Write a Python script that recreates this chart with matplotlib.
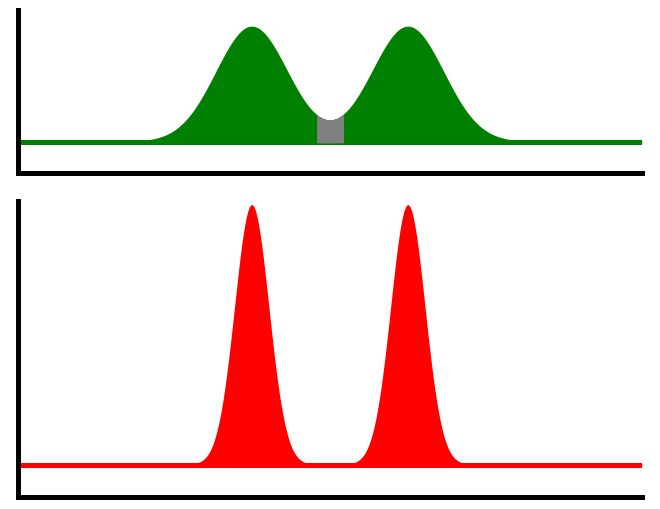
import matplotlib
matplotlib.use("Agg")
import matplotlib.pyplot as plt
import numpy as np

# peak parameters (x in axis units, peaks at +-2.5)
peak_centers = [-2.5, 2.5]
top_sigma = 1.15        # wide, overlapping peaks
bottom_sigma = 0.55     # narrow, separated peaks
top_height = 1.0
bottom_height = 1.0
overlap_span = [-0.42, 0.45]   # gray band between the top peaks

x = np.linspace(-10, 10, 2001)


def two_peaks(sigma, height):
    y = np.zeros_like(x)
    for c in peak_centers:
        y += height * np.exp(-(x - c) ** 2 / (2 * sigma ** 2))
    return y


y_top = two_peaks(top_sigma, top_height)
y_bot = two_peaks(bottom_sigma, bottom_height)

fig = plt.figure(figsize=(6.6, 5.1), dpi=100)
W, H = 660, 510


def make_axes(x0, x1, y_top_px, y_bot_px):
    return fig.add_axes([x0 / W, 1 - y_bot_px / H, (x1 - x0) / W, (y_bot_px - y_top_px) / H])


ax1 = make_axes(17.5, 642, 11, 174)
ax2 = make_axes(17.5, 642, 202, 497.5)

# top: wide peaks with gray overlap region
ax1.axhline(0, color="green", linewidth=2.2, antialiased=False, zorder=1)
ax1.fill_between(x, -0.012, y_top, color="green", linewidth=0, antialiased=False, zorder=2)
mask = (x >= overlap_span[0]) & (x <= overlap_span[1])
ax1.fill_between(x[mask], -0.012, y_top[mask], color="gray", linewidth=0, antialiased=False, zorder=3)
ax1.set_xlim(-10, 10)
ax1.set_ylim(-0.273, 1.14)

# bottom: narrow peaks
ax2.axhline(0, color="red", linewidth=2.2, antialiased=False, zorder=1)
ax2.fill_between(x, -0.005, y_bot, color="red", linewidth=0, antialiased=False, zorder=2)
ax2.set_xlim(-10, 10)
ax2.set_ylim(-0.123, 1.014)

for ax in (ax1, ax2):
    ax.spines["top"].set_visible(False)
    ax.spines["right"].set_visible(False)
    for s in ("left", "bottom"):
        ax.spines[s].set_linewidth(3.6)
        ax.spines[s].set_color("black")
        ax.spines[s].set_antialiased(False)
    ax.set_xticks([])
    ax.set_yticks([])

fig.savefig("out.png", dpi=100)
